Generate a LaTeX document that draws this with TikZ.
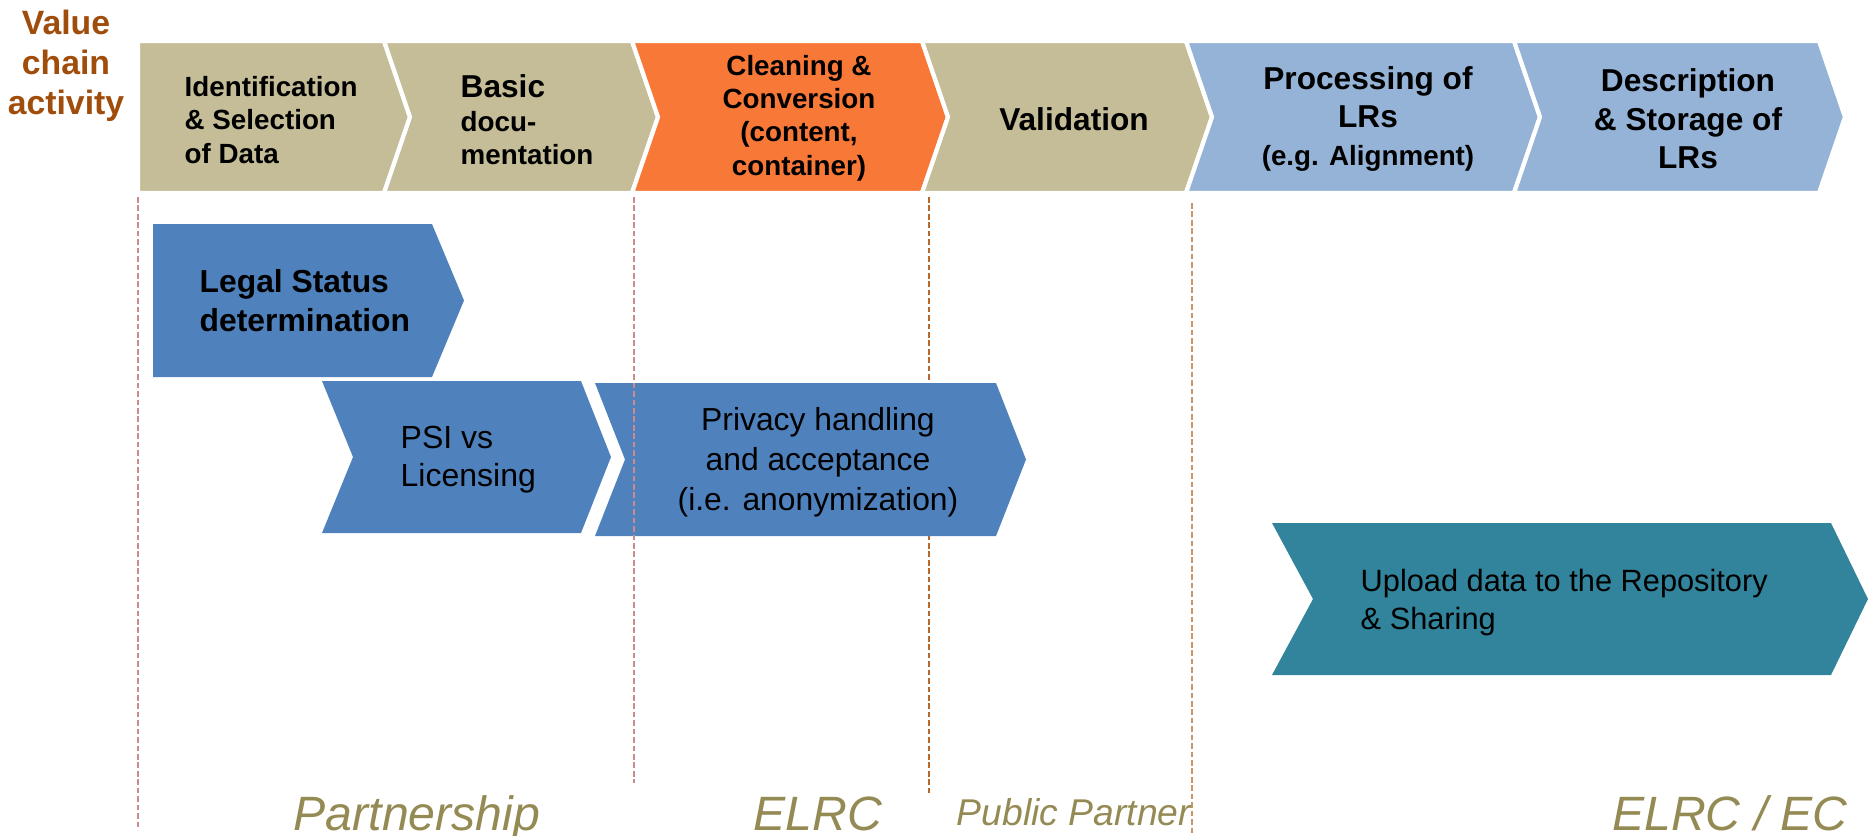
\documentclass[tikz,border=0pt]{standalone}
\usepackage{fontspec}
\setmainfont{Liberation Sans}
\usepackage{tikz}
\usetikzlibrary{positioning}
\definecolor{chainTan}{HTML}{C4BD97}
\definecolor{chainOrange}{HTML}{F87837}
\definecolor{chainSky}{HTML}{95B3D7}
\definecolor{chainBlue}{HTML}{4F81BD}
\definecolor{chainTeal}{HTML}{31849B}
\definecolor{chainBrown}{HTML}{A04C0A}
\definecolor{ownerOlive}{HTML}{948A54}
\definecolor{sepPink}{HTML}{CC8A8A}
\definecolor{sepRust}{HTML}{B8662A}
% #1 style, #2 left, #3 right, #4 top, #5 bottom, #6 notch depth, #7 tip depth
\newcommand{\chevron}[7]{%
  \pgfmathsetmacro{\midy}{(#4+#5)/2}
  \filldraw[draw=none, #1] (#2,#4) -- (#3,#4) -- (#3+#7,\midy) -- (#3,#5) -- (#2,#5) -- (#2+#6,\midy) -- cycle;}

\begin{document}
\begin{tikzpicture}[x=0.01cm, y=-0.01cm,
    bar/.style={draw=white, line width=1.2pt},
    lbl/.style={inner sep=0pt, font=\bfseries\fontsize{7.9}{9.5}\selectfont},
    biglbl/.style={inner sep=0pt, align=center, font=\bfseries\fontsize{9}{10.9}\selectfont},
    sep/.style={line width=0.45pt, dash pattern=on 1.6pt off 0.8pt},
    owner/.style={anchor=base, text=ownerOlive, font=\itshape\fontsize{13.7}{16}\selectfont}]
    \useasboundingbox (0,0) rectangle (1868,835);

    %Separators behind the boxes
    \draw[sep, sepPink] (138,197) -- (138,830);
    \draw[sep, sepRust] (929,197) -- (929,795);
    \draw[sep, sepRust!70] (1192,203) -- (1192,835);

    %Value chain
    \chevron{bar, fill=chainTan}{138}{384}{41}{193}{0}{26}
    \chevron{bar, fill=chainTan}{384}{632}{41}{193}{26}{26}
    \chevron{bar, fill=chainOrange}{632}{922}{41}{193}{26}{26}
    \chevron{bar, fill=chainTan}{922}{1186}{41}{193}{26}{26}
    \chevron{bar, fill=chainSky}{1186}{1514}{41}{193}{26}{26}
    \chevron{bar, fill=chainSky}{1514}{1819}{41}{193}{26}{26}

    %Tasks
    \chevron{fill=chainBlue}{153}{432}{224}{377}{0}{32}
    \chevron{fill=chainBlue}{322}{581}{381}{533}{31}{30}
    \chevron{fill=chainBlue}{595}{996}{383}{536}{30}{30}
    \chevron{fill=chainTeal}{1272}{1831}{523}{675}{41}{37}

    \draw[sep, sepPink] (634,197) -- (634,783);

    %Nodes
    \node[inner sep=0pt, align=center, text=chainBrown,
          font=\bfseries\fontsize{9.6}{11.4}\selectfont] (activity) at (66,66) {Value\\chain\\activity};
    \node[lbl, align=left, anchor=west] (select) at (184,120) {Identification\\\& Selection\\of Data};
    \node[lbl, align=left, anchor=west] (basic) at (460,120) {{\fontsize{9}{9.5}\selectfont Basic}\\docu-\\mentation};
    \node[lbl, align=center] (clean) at (799,118) {Cleaning \&\\Conversion\\(content,\\container)};
    \node[biglbl] (valid) at (1074,119) {Validation};
    \node[biglbl] (process) at (1368,119) {Processing of\\LRs\\{\fontsize{7.9}{9.5}\selectfont(e.g. Alignment)}};
    \node[biglbl] (store) at (1688,119) {Description\\\& Storage of\\LRs};

    \node[inner sep=0pt, align=left, anchor=west,
          font=\bfseries\fontsize{9.05}{11.1}\selectfont] (legal) at (199,301) {Legal Status\\determination};
    \node[inner sep=0pt, align=left, anchor=west,
          font=\fontsize{9.1}{10.8}\selectfont] (psi) at (400,460) {PSI vs\\Licensing};
    \node[inner sep=0pt, align=center,
          font=\fontsize{9.05}{11.4}\selectfont] (privacy) at (818,462) {Privacy handling\\and acceptance\\(i.e. anonymization)};
    \node[inner sep=0pt, align=left, anchor=west,
          font=\fontsize{8.75}{10.8}\selectfont] (upload) at (1360,603) {Upload data to the Repository\\\& Sharing};

    %Owners
    \node[owner] (partner) at (417,830) {Partnership};
    \node[owner] (elrc) at (818,830) {ELRC};
    \node[owner, font=\itshape\fontsize{10.6}{13}\selectfont] (public) at (1074,825) {Public Partner};
    \node[owner] (elrcec) at (1730,830) {ELRC / EC};
\end{tikzpicture}
\end{document}
